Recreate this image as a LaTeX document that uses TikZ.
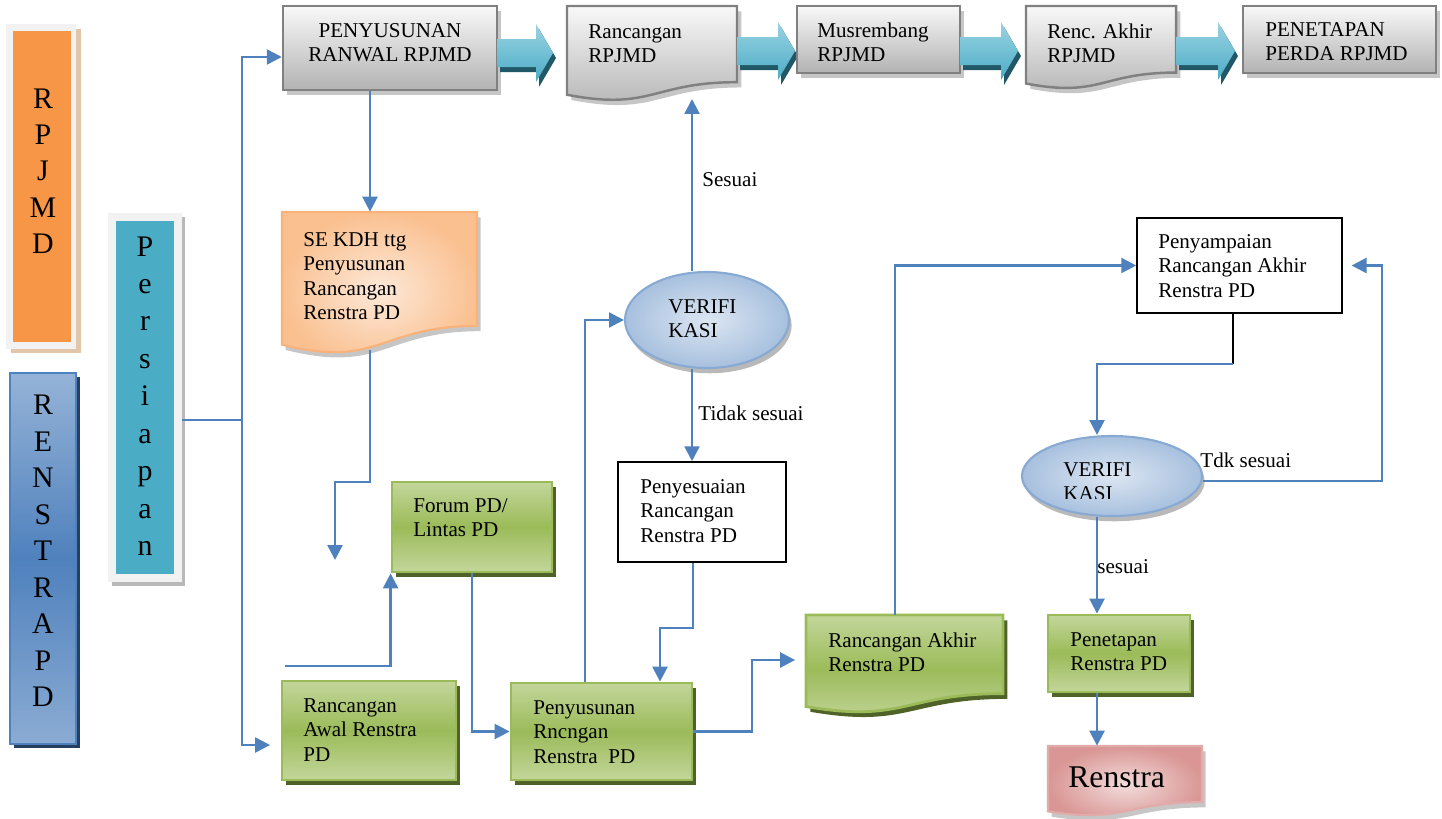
\documentclass[tikz,border=0pt]{standalone}
\usepackage{fontspec}
\setmainfont{Liberation Serif}
\usetikzlibrary{arrows.meta,shapes.geometric,shadows,calc}
\definecolor{lineblue}{HTML}{4F81BD}
\definecolor{orangeA}{HTML}{F79646}
\definecolor{orangeL}{HTML}{FDE9D9}
\definecolor{orangeM}{HTML}{FAC090}
\definecolor{tealA}{HTML}{4BACC6}
\definecolor{tealL}{HTML}{9AD3E2}
\definecolor{tealD}{HTML}{215867}
\definecolor{greenA}{HTML}{9BBB59}
\definecolor{greenL}{HTML}{C3D69B}
\definecolor{greenD}{HTML}{4F6228}
\definecolor{frameG}{HTML}{F2F2F2}
\definecolor{blueL}{HTML}{95B3D7}
\definecolor{blueD}{HTML}{4F81BD}
\definecolor{blueDD}{HTML}{254061}
\definecolor{ellL}{HTML}{DCE6F2}
\definecolor{ellD}{HTML}{A7C0DE}
\definecolor{pinkL}{HTML}{F2DCDB}
\definecolor{pinkD}{HTML}{D99694}
\newcommand\rbox[6]{\node[#2, rectangle, inner sep=0pt, minimum width={(#5-#3)*0.02cm}, minimum height={(#6-#4)*0.02cm}] (#1) at ({(#3+#5)/2},{(#4+#6)/2}) {};}
\newcommand\docpath[4]{(#1,#2) -- (#3,#2) -- (#3,{#2+0.802*(#4-#2)}) .. controls ({(#1+#3)/2},{#2+0.802*(#4-#2)}) and ({(#1+#3)/2},{#2+1.107*(#4-#2)}) .. (#1,{#2+0.934*(#4-#2)}) -- cycle}
\newcommand\tarrow[3]{%
  \fill[tealD, shift={(3,5)}] (#1,{#3-14}) -- ({#2-17},{#3-14}) -- ({#2-17},{#3-29}) -- (#2,#3) -- ({#2-17},{#3+29}) -- ({#2-17},{#3+14}) -- (#1,{#3+14}) -- cycle;
  \path[top color=tealL, bottom color=tealA] (#1,{#3-14}) -- ({#2-17},{#3-14}) -- ({#2-17},{#3-29}) -- (#2,#3) -- ({#2-17},{#3+29}) -- ({#2-17},{#3+14}) -- (#1,{#3+14}) -- cycle;}
\begin{document}
\begin{tikzpicture}[x=0.02cm,y=-0.02cm,font=\fontsize{12}{13.8}\selectfont,
  conn/.style={draw=lineblue, line width=1.4pt},
  arr/.style={conn, -{Triangle[length=8.5pt,width=8.5pt]}},
  blk/.style={draw=black, line width=0.9pt, fill=white},
  lbl/.style={inner sep=0pt, anchor=west, align=left},
  grn/.style={draw=greenA, line width=1.6pt, top color=greenL, bottom color=greenL, middle color=greenA, drop shadow={shadow xshift=2.5pt, shadow yshift=-3pt, fill=greenD, opacity=1}},
  gry/.style={draw=gray, line width=1.4pt, top color=gray!5, bottom color=gray!60, drop shadow={shadow xshift=2.5pt, shadow yshift=-3pt, fill=gray!45, opacity=1}},
  ghost/.style={draw=none, fill=none},
  ell/.style={ellipse, inner sep=0pt, draw=blueL!80!blueD, line width=1.2pt, inner color=ellL, outer color=ellD, drop shadow={shadow xshift=1.5pt, shadow yshift=-3pt, fill=gray!55, opacity=1}},
  barletters/.style={inner sep=0pt, align=center, font=\fontsize{17}{#1}\selectfont}
]
\useasboundingbox (0,0) rectangle (1442,818);

% ---------- left bars ----------
\fill[brown!45] (11,29) rectangle (81,353);
\rbox{rpjmdF}{fill=frameG}{6}{24}{76}{349}
\rbox{rpjmd}{fill=orangeA}{13}{31}{71}{342}
\node[barletters=20.7pt] (rpjmdT) at (43,171) {R\\P\\J\\M\\D};

\rbox{renbar}{draw=blueD, line width=1.5pt, top color=blueL, bottom color=blueL!85!blueD, middle color=blueD, drop shadow={shadow xshift=2.5pt, shadow yshift=-2.5pt, fill=blueDD, opacity=1}}{10}{373}{76}{744}
\node[barletters=20.8pt] (renbarT) at (43,551) {R\\E\\N\\S\\T\\R\\A\\P\\D};

\fill[gray!55] (112,217) rectangle (185,586);
\rbox{pers}{fill=frameG}{108}{213}{182}{582}
\rbox{persI}{fill=tealA}{116}{221}{174}{574}
\node[barletters=21.3pt] (persT) at (145,396) {P\\e\\r\\s\\i\\a\\p\\a\\n};

% ---------- top row ----------
\rbox{ranwal}{gry}{283}{6}{497}{90}
\node[inner sep=0pt, align=center] (ranwalT) at (390,43) {PENYUSUNAN\\RANWAL RPJMD};
\tarrow{497}{553}{53}

\path[draw=gray, line width=1.4pt, top color=gray!5, bottom color=gray!60, drop shadow={shadow xshift=2.5pt, shadow yshift=-3pt, fill=gray!45, opacity=1}] \docpath{567}{6}{737}{101};
\rbox{rr}{ghost}{567}{6}{737}{101}
\node[lbl] (rrT) at (588,44) {Rancangan\\RPJMD};
\tarrow{737}{795}{51}

\rbox{mus}{gry}{797}{6}{960}{73}
\node[lbl] (musT) at (817,42) {Musrembang\\RPJMD};
\tarrow{960}{1018}{51}

\path[draw=gray, line width=1.4pt, top color=gray!5, bottom color=gray!60, drop shadow={shadow xshift=2.5pt, shadow yshift=-3pt, fill=gray!45, opacity=1}] \docpath{1026}{6}{1176}{89};
\rbox{rea}{ghost}{1026}{6}{1176}{89}
\node[lbl] (reaT) at (1047,43) {Renc. Akhir\\RPJMD};
\tarrow{1176}{1235}{51}

\rbox{perda}{gry}{1243}{6}{1436}{73}
\node[lbl] (perdaT) at (1265,42) {PENETAPAN\\PERDA RPJMD};

% ---------- middle ----------
\path[draw=orangeM!70!orangeA, line width=1.2pt, inner color=orangeL, outer color=orangeM, drop shadow={shadow xshift=2pt, shadow yshift=-3pt, fill=gray!45, opacity=1}] \docpath{282}{212}{477}{354};
\rbox{sekdh}{ghost}{282}{212}{477}{354}
\node[lbl] (sekdhT) at (303,276) {SE KDH ttg\\Penyusunan\\Rancangan\\Renstra PD};

\rbox{forum}{grn}{392}{482}{552}{572}
\node[lbl] (forumT) at (413,518) {Forum PD/\\Lintas PD};

\rbox{rawal}{grn}{282}{681}{456}{780}
\node[lbl] (rawalT) at (303,730) {Rancangan\\Awal Renstra\\PD};

\rbox{pen}{grn}{511}{683}{692}{780}
\node[lbl] (penT) at (533,732) {Penyusunan\\Rncngan\\Renstra\ \ PD};

\node[ell, minimum width=164*0.02cm, minimum height=96*0.02cm] (ver1) at (707,320) {};
\node[lbl] (ver1T) at (668,319) {VERIFI\\KASI};

\rbox{pny}{blk}{618}{462}{786}{562}
\node[lbl] (pnyT) at (640,511) {Penyesuaian\\Rancangan\\Renstra PD};

\path[draw=greenA, line width=1.6pt, top color=greenL, bottom color=greenL, middle color=greenA, drop shadow={shadow xshift=2.5pt, shadow yshift=-3pt, fill=greenD, opacity=1}] \docpath{806}{615}{1003}{713};
\rbox{rak}{ghost}{806}{615}{1003}{713}
\node[lbl] (rakT) at (828,652) {Rancangan Akhir\\Renstra PD};

\rbox{pyp}{blk}{1137}{218}{1342}{313}
\node[lbl] (pypT) at (1158,266) {Penyampaian\\Rancangan Akhir\\Renstra PD};

\node[ell, minimum width=180*0.02cm, minimum height=80*0.02cm] (ver2) at (1112,476) {};
\begin{scope}
\clip (1050,445) rectangle (1180,498);
\node[lbl] (ver2T) at (1063,482) {VERIFI\\KASI};
\end{scope}

\rbox{pnt}{grn}{1048}{615}{1190}{692}
\node[lbl] (pntT) at (1070,652) {Penetapan\\Renstra PD};

\path[draw=pinkD!80!white, line width=1.2pt, inner color=pinkL, outer color=pinkD, drop shadow={shadow xshift=2pt, shadow yshift=-3pt, fill=gray!45, opacity=1}] \docpath{1048}{746}{1202}{816};
\rbox{ren}{ghost}{1048}{746}{1202}{816}
\node[lbl, font=\fontsize{18}{20}\selectfont] (renT) at (1068,777) {Renstra};

% ---------- connectors ----------
\coordinate (junc) at (242,420);
\draw[conn] (pers.east |- junc) -- (junc);
\draw[arr] (junc) |- (ranwal.west |- 0,57);
\draw[arr, shorten >=6pt] (junc) |- (rawal.west |- 0,745);

\coordinate (c370) at (370,0);
\draw[arr] (ranwal.south -| c370) -- (sekdh.north -| c370);
\coordinate (se-b) at (370,350);
\coordinate (se-k) at (335,482);
\coordinate (se-end) at (335,560);
\draw[arr] (se-b) |- (se-k) -- (se-end);

\coordinate (f-start) at (285,666);
\draw[arr] (f-start) -| (forum.south west);
\draw[arr] (forum.south) |- (pen.west);

\coordinate (c585) at (585,0);
\draw[arr] (pen.north -| c585) |- (ver1.west);

\coordinate (rr-b) at (692,99);
\draw[arr] (ver1.north -| rr-b) -- (rr-b);
\node[lbl] (sesuai1) at (702,180) {Sesuai};
\draw[arr] (ver1.south -| rr-b) -- (pny.north -| rr-b);
\node[lbl] (tidak) at (698,413) {Tidak sesuai};

\coordinate (c693) at (693,628);
\coordinate (c660) at (660,0);
\draw[arr] (pny.south -| c693) -- (c693) -| (pen.north -| c660);

\coordinate (c752) at (752,0);
\draw[arr, shorten >=6pt] (pen.east) -- (pen.east -| c752) |- (rak.west |- 0,660);

\coordinate (c895) at (895,0);
\draw[arr] (rak.north -| c895) |- (pyp.west);

\coordinate (c1233) at (1233,364);
\coordinate (c1097) at (1097,0);
\draw[black, line width=1.3pt] (pyp.south -| c1233) -- (c1233);
\draw[arr] (c1233) -| (ver2.north -| c1097);

\coordinate (c1382) at (1382,0);
\draw[arr, shorten >=5pt] (ver2.east |- 0,481) -| (c1382 |- pyp.east) -- (pyp.east);
\node[lbl] (tdk) at (1200,460) {Tdk sesuai};

\draw[arr] (ver2.south -| c1097) -- (pnt.north -| c1097);
\node[lbl] (sesuai2) at (1097,567) {sesuai};
\draw[arr] (pnt.south -| c1097) -- (ren.north -| c1097);
\end{tikzpicture}
\end{document}
